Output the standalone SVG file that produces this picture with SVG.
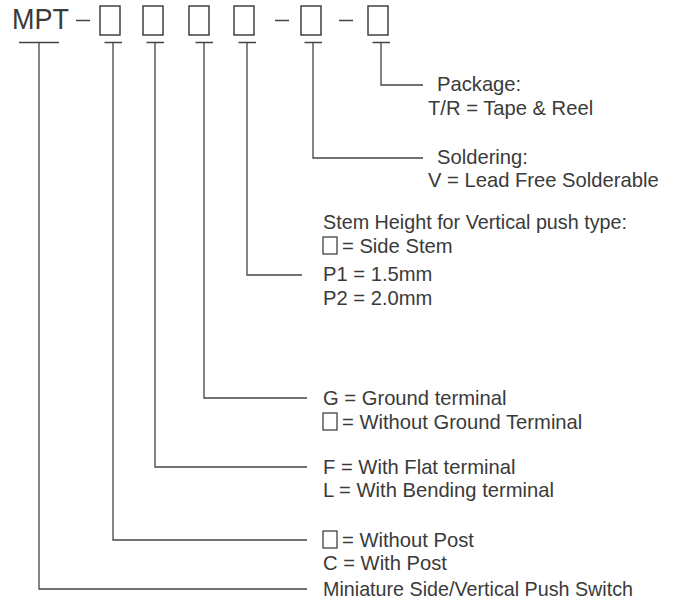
<svg xmlns="http://www.w3.org/2000/svg" width="674" height="601" viewBox="0 0 674 601">
<style>
text{font-family:"Liberation Sans",Arial,sans-serif;font-size:20.2px;fill:#3a3a3a}
.big{font-size:29px}
.box{fill:none;stroke:#333;stroke-width:1.4}
.sbox{fill:none;stroke:#333;stroke-width:1.2}
.ln{fill:none;stroke:#444;stroke-width:1.3}
</style>
<rect width="674" height="601" fill="#fff"/>
<g id="code">
<text class="big" x="12" y="29" textLength="57" lengthAdjust="spacingAndGlyphs">MPT</text>
<path class="ln" d="M76 20.5H90M275 20.5H289M339 20.5H353"/>
<rect class="box" x="100" y="6" width="20" height="29"/>
<rect class="box" x="143" y="6" width="20" height="29"/>
<rect class="box" x="189" y="6" width="20" height="29"/>
<rect class="box" x="234" y="6" width="20" height="29"/>
<rect class="box" x="301" y="6" width="20" height="29"/>
<rect class="box" x="368" y="6" width="20" height="29"/>
</g>
<g id="connectors">
<path class="ln" d="M19 42.5H59M39 42.5V589H307"/>
<path class="ln" d="M104.5 42.5H122M113 42.5V540H307"/>
<path class="ln" d="M146.5 42.5H164M155 42.5V467H307"/>
<path class="ln" d="M195.5 42.5H213M204 42.5V398H307"/>
<path class="ln" d="M238.5 42.5H256M247 42.5V275H302"/>
<path class="ln" d="M304.5 42.5H322M313 42.5V158H423"/>
<path class="ln" d="M372.5 42.5H390M381 42.5V85H423"/>
</g>
<g id="package">
<text x="437" y="91">Package:</text>
<text x="428" y="115">T/R = Tape &amp; Reel</text>
</g>
<g id="soldering">
<text x="437" y="164">Soldering:</text>
<text x="428" y="187">V = Lead Free Solderable</text>
</g>
<g id="stem">
<text x="323" y="229" textLength="304" lengthAdjust="spacingAndGlyphs">Stem Height for Vertical push type:</text>
<rect class="sbox" x="323" y="237" width="14" height="17"/>
<text x="342" y="253">= Side Stem</text>
<text x="323" y="281">P1 = 1.5mm</text>
<text x="323" y="305">P2 = 2.0mm</text>
</g>
<g id="ground">
<text x="323" y="405">G = Ground terminal</text>
<rect class="sbox" x="323" y="413" width="14" height="17"/>
<text x="342" y="429">= Without Ground Terminal</text>
</g>
<g id="terminal">
<text x="323" y="474">F = With Flat terminal</text>
<text x="323" y="497">L = With Bending terminal</text>
</g>
<g id="post">
<rect class="sbox" x="323" y="531" width="14" height="17"/>
<text x="342" y="547">= Without Post</text>
<text x="323" y="570">C = With Post</text>
</g>
<g id="series">
<text x="323" y="596" textLength="310" lengthAdjust="spacingAndGlyphs">Miniature Side/Vertical Push Switch</text>
</g>
</svg>
